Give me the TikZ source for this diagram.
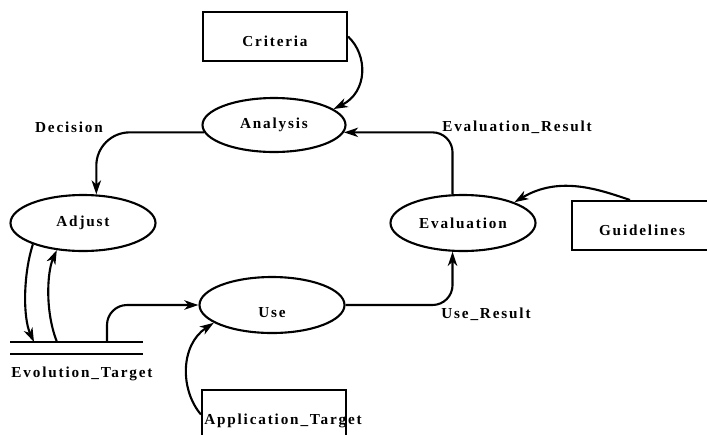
\documentclass[tikz,border=0pt]{standalone}
\usepackage{fontspec}
\setmainfont{Liberation Serif}[LetterSpace=12]
\usetikzlibrary{shapes.geometric,arrows.meta,calc}
\begin{document}
\begin{tikzpicture}[x=0.03cm,y=-0.03cm,
  every node/.style={font=\fontsize{13}{15}\selectfont\bfseries},
  proc/.style={draw,ellipse,line width=1.8pt,inner sep=0pt,
    minimum width=4.35cm,minimum height=1.68cm},
  ext/.style={draw,rectangle,line width=1.8pt,inner sep=0pt,
    minimum width=4.32cm,minimum height=1.47cm},
  lowtext/.style={text height=1.75em,text depth=0pt},
  flow/.style={line width=1.8pt,-{Stealth[length=12pt,width=8pt,inset=3.5pt]}},
  plain/.style={line width=1.8pt},
  lbl/.style={inner sep=0pt}]
\clip (0,0) rectangle (707,434);

% processes
\node[proc,minimum width=4.29cm,minimum height=1.62cm] (ana) at (274,125) {Analysis};
\node[proc] (adj) at (83,223) {Adjust};
\node[proc,text height=2.2em,text depth=0pt] (use) at (272,305) {Use};
\node[proc] (eva) at (463,223) {Evaluation};

% external entities
\node[ext,lowtext] (crit) at (275,36.5) {Criteria};
\node[ext,lowtext,minimum width=4.2cm] (guide) at (642,225.5) {Guidelines};
\node[ext] (appbox) at (274,414.5) {};
\node[lbl] (apptext) at (283,421) {Application\_Target};

% data store
\coordinate (stA) at (10,342);
\coordinate (stB) at (143,342);
\coordinate (stC) at (10,354);
\coordinate (stD) at (143,354);
\draw[plain] (stA) -- (stB);
\draw[plain] (stC) -- (stD);
\node[lbl] (evt) at (82,374) {Evolution\_Target};
\coordinate (sL) at (34,342);
\coordinate (sR) at (57,342);
\coordinate (sU) at (107,342);

% flows
\draw[flow] (crit.east) .. controls (368,55) and (368,92) .. (ana.15);
\draw[flow,rounded corners=6mm] (eva.110) |- (ana.-6);
\draw[flow,rounded corners=1cm] (ana.186) -| (adj.65);
\draw[flow] (adj.203) .. controls (23,275) and (23,318) .. (sL);
\draw[flow] (sR) .. controls (45,312) and (47,272) .. (adj.226);
\draw[flow,rounded corners=6mm] (sU) |- (use.west);
\draw[flow] (appbox.west) .. controls (180,390) and (180,345) .. (use.197);
\draw[flow,rounded corners=6mm] (use.east) -| (eva.250);
\draw[flow] ($(guide.north)+(-12,0)$) .. controls (600,190) and (560,175) .. (eva.22);

% flow labels
\node[lbl] (dec) at (69,127) {Decision};
\node[lbl] (evr) at (517,127) {Evaluation\_Result};
\node[lbl] (usr) at (486,314) {Use\_Result};
\end{tikzpicture}
\end{document}
